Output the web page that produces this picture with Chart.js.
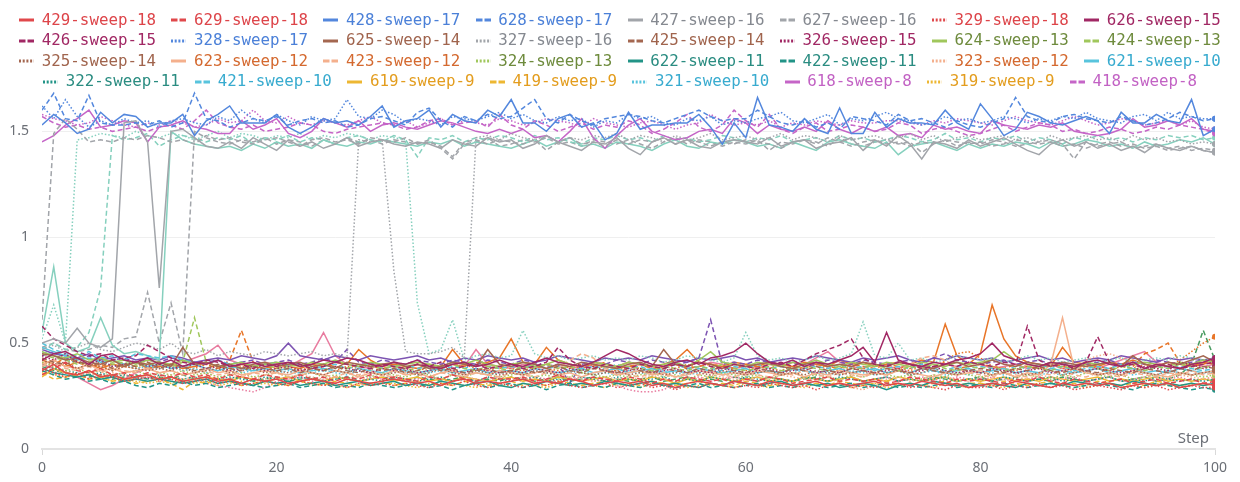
<!DOCTYPE html>
<html>
<head>
<meta charset="utf-8">
<script src="https://cdn.jsdelivr.net/npm/chart.js@4.4.1/dist/chart.umd.min.js"></script>
<style>
  body { margin: 0; background: #fff; }
  #wrap { position: relative; width: 1240px; height: 482px; }
  #lossChart { position: absolute; left: 0; top: 0; }
  #legend {
    position: absolute; left: 0; top: 0; width: 1240px; height: 89px;
    overflow: hidden; box-sizing: border-box; padding-top: 9.7px;
    display: flex; flex-wrap: wrap; justify-content: center; align-content: flex-start;
    column-gap: 15.3px;
    font: 15.8px "DejaVu Sans Mono", monospace; line-height: 20.6px;
  }
  .item { display: flex; align-items: center; height: 20.6px; white-space: nowrap; }
  .item svg { margin-right: 7.7px; }
</style>
</head>
<body>
<div id="wrap">
  <canvas id="lossChart" width="1240" height="482"></canvas>
  <div id="legend"></div>
</div>
<script>
// x categories and tick labels
const steps = Array.from({ length: 101 }, (_, i) => i);
const xTicks = [0, 20, 40, 60, 80, 100];
const yTicks = [0, 0.5, 1, 1.5];

// ---- runs that end near 1.5 ----
const r428 = [1.53,1.58,1.54,1.49,1.51,1.59,1.54,1.58,1.57,1.52, 1.54,1.54,1.58,1.48,1.55,1.58,1.62,1.54,1.54,1.54,
  1.58,1.52,1.49,1.52,1.56,1.54,1.55,1.53,1.57,1.62, 1.52,1.55,1.56,1.60,1.52,1.58,1.55,1.54,1.60,1.57,
  1.65,1.54,1.54,1.50,1.56,1.58,1.52,1.54,1.46,1.49, 1.59,1.51,1.53,1.53,1.54,1.54,1.58,1.52,1.44,1.54,
  1.47,1.66,1.53,1.52,1.50,1.56,1.51,1.49,1.61,1.49, 1.49,1.59,1.52,1.56,1.54,1.54,1.53,1.60,1.54,1.51,
  1.63,1.56,1.48,1.51,1.59,1.57,1.54,1.53,1.55,1.57, 1.55,1.49,1.59,1.54,1.54,1.58,1.55,1.54,1.65,1.48, 1.51];
const r628 = [1.60,1.68,1.56,1.55,1.67,1.54,1.53,1.53,1.54,1.53, 1.55,1.52,1.54,1.68,1.56,1.55,1.52,1.54,1.56,1.55,
  1.57,1.53,1.55,1.56,1.54,1.55,1.52,1.53,1.56,1.57, 1.55,1.53,1.59,1.61,1.55,1.52,1.57,1.55,1.58,1.56,
  1.57,1.61,1.65,1.56,1.54,1.58,1.55,1.53,1.56,1.57, 1.58,1.57,1.55,1.54,1.56,1.58,1.60,1.57,1.55,1.56,
  1.56,1.60,1.57,1.54,1.53,1.55,1.52,1.54,1.51,1.57, 1.56,1.55,1.53,1.58,1.55,1.56,1.54,1.52,1.55,1.53,
  1.52,1.54,1.56,1.66,1.57,1.55,1.54,1.57,1.58,1.56, 1.55,1.54,1.57,1.55,1.53,1.54,1.56,1.59,1.57,1.55, 1.56];
const r328 = [1.62,1.56,1.65,1.57,1.52,1.55,1.53,1.56,1.54,1.55, 1.52,1.55,1.56,1.54,1.53,1.57,1.55,1.60,1.56,1.54,
  1.58,1.55,1.53,1.57,1.55,1.56,1.65,1.57,1.56,1.60, 1.58,1.54,1.56,1.55,1.53,1.57,1.56,1.55,1.57,1.59,
  1.56,1.58,1.55,1.54,1.57,1.55,1.56,1.52,1.55,1.54, 1.58,1.56,1.57,1.54,1.53,1.56,1.55,1.57,1.53,1.55,
  1.54,1.56,1.57,1.59,1.55,1.54,1.56,1.58,1.53,1.56, 1.55,1.57,1.59,1.56,1.55,1.53,1.54,1.57,1.55,1.56,
  1.54,1.55,1.57,1.56,1.54,1.56,1.55,1.57,1.56,1.59, 1.56,1.55,1.54,1.57,1.58,1.55,1.59,1.56,1.57,1.56, 1.56];
const r618 = [1.45,1.48,1.53,1.56,1.60,1.52,1.53,1.55,1.54,1.45, 1.52,1.53,1.55,1.52,1.51,1.49,1.49,1.55,1.51,1.53,
  1.56,1.49,1.47,1.50,1.56,1.54,1.52,1.55,1.50,1.53, 1.54,1.52,1.51,1.53,1.55,1.54,1.52,1.50,1.49,1.51,
  1.49,1.51,1.47,1.48,1.45,1.50,1.56,1.47,1.42,1.48, 1.53,1.56,1.50,1.48,1.46,1.47,1.50,1.51,1.49,1.56,
  1.54,1.49,1.53,1.51,1.50,1.52,1.50,1.55,1.51,1.49, 1.52,1.50,1.52,1.48,1.49,1.47,1.53,1.51,1.52,1.50,
  1.49,1.55,1.53,1.52,1.51,1.53,1.52,1.54,1.50,1.49, 1.48,1.49,1.51,1.56,1.52,1.53,1.55,1.53,1.56,1.51, 1.50];
const r418 = [1.57,1.54,1.52,1.53,1.51,1.52,1.50,1.51,1.52,1.50, 1.52,1.53,1.51,1.55,1.60,1.54,1.52,1.51,1.53,1.50,
  1.51,1.52,1.54,1.53,1.50,1.49,1.51,1.52,1.53,1.54, 1.53,1.51,1.52,1.55,1.56,1.53,1.54,1.55,1.52,1.58,
  1.53,1.51,1.55,1.53,1.50,1.52,1.54,1.51,1.53,1.52, 1.55,1.53,1.49,1.51,1.54,1.58,1.52,1.50,1.53,1.60,
  1.55,1.52,1.58,1.51,1.49,1.52,1.54,1.50,1.51,1.53, 1.52,1.50,1.51,1.54,1.53,1.49,1.51,1.52,1.50,1.48,
  1.49,1.51,1.53,1.50,1.52,1.54,1.53,1.50,1.51,1.49, 1.50,1.52,1.51,1.49,1.50,1.52,1.51,1.53,1.52,1.51, 1.49];
const r318 = [1.58,1.56,1.55,1.53,1.54,1.57,1.55,1.53,1.52,1.54, 1.53,1.55,1.54,1.52,1.53,1.56,1.54,1.55,1.60,1.55,
  1.54,1.57,1.54,1.53,1.55,1.54,1.53,1.55,1.57,1.54, 1.53,1.55,1.52,1.54,1.56,1.53,1.55,1.54,1.53,1.56,
  1.55,1.53,1.54,1.56,1.55,1.54,1.52,1.56,1.54,1.53, 1.52,1.54,1.55,1.53,1.51,1.53,1.54,1.58,1.55,1.53,
  1.54,1.53,1.55,1.52,1.54,1.53,1.55,1.54,1.53,1.55, 1.54,1.54,1.55,1.55,1.54,1.53,1.55,1.54,1.56,1.55,
  1.54,1.53,1.55,1.57,1.55,1.54,1.53,1.55,1.57,1.55, 1.53,1.54,1.56,1.55,1.53,1.54,1.55,1.53,1.55,1.52, 1.51];
const r427 = [0.50,0.52,0.50,0.57,0.50,0.48,0.52,1.54,1.55,1.45, 0.76,1.50,1.51,1.47,1.43,1.42,1.45,1.42,1.47,1.44,
  1.41,1.46,1.43,1.45,1.42,1.44,1.47,1.43,1.45,1.46, 1.44,1.43,1.45,1.44,1.42,1.46,1.44,1.43,1.47,1.45,
  1.46,1.42,1.44,1.48,1.45,1.43,1.41,1.45,1.44,1.47, 1.42,1.39,1.45,1.47,1.44,1.46,1.43,1.42,1.45,1.46,
  1.45,1.44,1.47,1.43,1.45,1.46,1.42,1.44,1.45,1.47, 1.41,1.46,1.43,1.48,1.44,1.37,1.45,1.44,1.42,1.46,
  1.43,1.45,1.47,1.44,1.41,1.39,1.44,1.46,1.43,1.45, 1.42,1.44,1.41,1.43,1.40,1.44,1.42,1.41,1.43,1.41, 1.40];
const r627 = [0.61,1.49,1.56,1.51,1.45,1.46,1.45,1.47,1.46,1.48, 1.47,1.45,1.46,1.44,1.48,1.46,1.47,1.45,1.44,1.46,
  1.47,1.45,1.43,1.46,1.47,1.45,1.46,1.44,1.47,1.46, 1.45,1.47,1.44,1.45,1.43,1.38,1.45,1.46,1.44,1.46,
  1.45,1.44,1.46,1.41,1.45,1.47,1.44,1.45,1.43,1.46, 1.44,1.46,1.45,1.47,1.44,1.46,1.45,1.43,1.45,1.44,
  1.46,1.45,1.44,1.42,1.45,1.46,1.44,1.47,1.45,1.43, 1.45,1.46,1.44,1.45,1.43,1.45,1.44,1.46,1.45,1.44,
  1.45,1.43,1.44,1.46,1.45,1.44,1.45,1.43,1.44,1.42, 1.44,1.45,1.43,1.44,1.42,1.43,1.41,1.42,1.43,1.41, 1.40];
const r527 = [0.48,0.50,0.47,0.46,0.47,0.49,0.48,0.52,0.53,0.74, 0.50,0.69,0.45,1.50,1.47,1.45,1.44,1.46,1.45,1.47,
  1.44,1.46,1.45,1.43,1.46,1.44,1.47,1.45,1.46,1.44, 1.46,1.45,1.44,1.46,1.42,1.37,1.44,1.45,1.47,1.43,
  1.44,1.46,1.45,1.47,1.44,1.45,1.43,1.46,1.45,1.44, 1.46,1.44,1.42,1.45,1.47,1.44,1.46,1.45,1.43,1.45,
  1.44,1.46,1.41,1.45,1.44,1.46,1.45,1.43,1.47,1.44, 1.43,1.45,1.46,1.44,1.45,1.40,1.44,1.46,1.43,1.45,
  1.44,1.46,1.45,1.43,1.44,1.45,1.46,1.44,1.37,1.45, 1.43,1.44,1.45,1.42,1.43,1.44,1.42,1.43,1.41,1.42, 1.41];
const r327 = [0.47,0.49,0.46,0.48,0.50,0.47,0.46,0.48,0.50,0.49, 0.47,0.50,0.46,0.45,0.47,0.44,0.46,0.45,0.44,0.46,
  0.45,0.44,0.45,0.46,0.44,0.45,0.43,1.46,1.45,1.46, 0.84,0.46,0.45,0.45,0.46,0.48,0.43,1.47,1.48,1.46,
  1.49,1.47,1.46,1.48,1.45,1.47,1.46,1.48,1.47,1.49, 1.46,1.48,1.47,1.45,1.48,1.46,1.47,1.49,1.46,1.47,
  1.48,1.46,1.47,1.49,1.46,1.48,1.47,1.45,1.48,1.46, 1.47,1.48,1.46,1.47,1.49,1.46,1.48,1.45,1.47,1.48,
  1.46,1.47,1.48,1.46,1.47,1.45,1.48,1.46,1.47,1.48, 1.46,1.47,1.45,1.48,1.46,1.47,1.45,1.46,1.44,1.45, 1.44];
const r617 = [0.55,0.86,0.50,0.46,0.48,0.62,0.49,0.45,0.46,0.44, 0.42,1.50,1.46,1.44,1.43,1.42,1.43,1.41,1.44,1.42,
  1.45,1.43,1.44,1.42,1.46,1.44,1.43,1.45,1.44,1.46, 1.45,1.44,1.43,1.45,1.44,1.46,1.43,1.45,1.44,1.43,
  1.42,1.44,1.46,1.43,1.45,1.47,1.43,1.44,1.42,1.45, 1.44,1.43,1.41,1.44,1.46,1.43,1.42,1.45,1.44,1.46,
  1.45,1.43,1.44,1.42,1.45,1.43,1.41,1.45,1.46,1.44, 1.43,1.42,1.45,1.39,1.43,1.44,1.45,1.43,1.41,1.44,
  1.42,1.44,1.43,1.45,1.44,1.42,1.45,1.43,1.44,1.46, 1.45,1.43,1.44,1.42,1.45,1.43,1.44,1.46,1.45,1.47, 1.44];
const r417 = [0.47,0.50,0.47,0.48,0.55,0.76,1.48,1.46,1.47,1.49, 1.43,1.46,1.48,1.47,1.45,1.47,1.46,1.48,1.44,1.47,
  1.46,1.48,1.45,1.47,1.46,1.44,1.47,1.48,1.46,1.45, 1.48,1.46,1.38,1.47,1.46,1.48,1.45,1.47,1.46,1.48,
  1.47,1.45,1.48,1.46,1.47,1.45,1.44,1.47,1.46,1.48, 1.46,1.47,1.45,1.48,1.46,1.47,1.45,1.46,1.48,1.47,
  1.45,1.47,1.46,1.48,1.45,1.46,1.47,1.45,1.48,1.46, 1.47,1.45,1.46,1.48,1.47,1.45,1.46,1.49,1.46,1.47,
  1.45,1.47,1.46,1.48,1.45,1.47,1.46,1.44,1.47,1.46, 1.48,1.46,1.47,1.45,1.47,1.46,1.48,1.47,1.48,1.46, 1.47];
const r317 = [0.52,0.68,0.50,1.46,1.47,1.49,1.48,1.47,1.50,1.48, 1.47,1.49,1.48,1.46,1.48,1.50,1.47,1.49,1.48,1.46,
  1.48,1.47,1.49,1.46,1.48,1.47,1.49,1.48,1.46,1.48, 1.47,1.46,0.69,0.45,0.47,0.61,0.42,0.44,0.45,0.43,
  0.44,0.56,0.45,0.43,0.44,0.42,0.43,0.44,0.42,0.43, 0.42,0.44,0.43,0.41,0.42,0.44,0.43,0.42,0.41,0.43,
  0.55,0.44,0.42,0.43,0.41,0.42,0.44,0.42,0.43,0.45, 0.60,0.44,0.43,0.50,0.42,0.43,0.41,0.42,0.44,0.43,
  0.42,0.43,0.41,0.42,0.44,0.42,0.43,0.41,0.42,0.43, 0.41,0.42,0.43,0.41,0.42,0.43,0.42,0.44,0.43,0.42, 0.43];

// ---- runs that stay near 0.35 ----
const r429 = [0.37,0.40,0.36,0.35,0.37,0.34,0.35,0.33,0.34,0.35, 0.33,0.34,0.32,0.33,0.34,0.32,0.33,0.31,0.33,0.32,
  0.33,0.31,0.32,0.33,0.32,0.31,0.33,0.32,0.31,0.32, 0.33,0.32,0.31,0.32,0.30,0.32,0.33,0.31,0.32,0.31,
  0.32,0.33,0.31,0.32,0.31,0.33,0.32,0.30,0.31,0.32, 0.31,0.32,0.30,0.31,0.29,0.31,0.32,0.31,0.30,0.32,
  0.31,0.30,0.32,0.31,0.30,0.31,0.32,0.30,0.31,0.30, 0.31,0.32,0.30,0.31,0.30,0.32,0.31,0.30,0.31,0.29,
  0.30,0.31,0.30,0.32,0.31,0.30,0.29,0.31,0.30,0.31, 0.30,0.31,0.29,0.30,0.31,0.30,0.31,0.29,0.30,0.31, 0.30];
const r629 = [0.35,0.38,0.41,0.37,0.36,0.38,0.35,0.36,0.34,0.36, 0.35,0.34,0.36,0.34,0.35,0.33,0.35,0.34,0.33,0.35,
  0.34,0.33,0.35,0.33,0.34,0.32,0.34,0.33,0.35,0.33, 0.34,0.33,0.32,0.34,0.33,0.35,0.33,0.32,0.34,0.33,
  0.33,0.34,0.32,0.33,0.35,0.33,0.32,0.34,0.33,0.32, 0.34,0.33,0.31,0.33,0.32,0.34,0.33,0.32,0.33,0.31,
  0.33,0.32,0.34,0.33,0.31,0.32,0.33,0.34,0.32,0.33, 0.32,0.33,0.31,0.32,0.34,0.33,0.32,0.31,0.33,0.32,
  0.33,0.32,0.31,0.33,0.32,0.34,0.32,0.31,0.33,0.32, 0.31,0.32,0.33,0.31,0.32,0.33,0.31,0.32,0.33,0.31, 0.32];
const r329 = [0.38,0.36,0.34,0.36,0.33,0.35,0.34,0.32,0.33,0.34, 0.32,0.33,0.31,0.32,0.33,0.31,0.32,0.30,0.31,0.32,
  0.31,0.30,0.32,0.31,0.30,0.31,0.29,0.31,0.30,0.31, 0.30,0.31,0.30,0.29,0.31,0.30,0.32,0.30,0.29,0.31,
  0.30,0.29,0.31,0.30,0.32,0.30,0.29,0.30,0.31,0.29, 0.30,0.31,0.29,0.30,0.28,0.30,0.29,0.31,0.30,0.29,
  0.30,0.29,0.31,0.30,0.29,0.30,0.28,0.30,0.31,0.29, 0.30,0.29,0.30,0.31,0.29,0.30,0.29,0.28,0.30,0.29,
  0.29,0.30,0.28,0.30,0.29,0.31,0.29,0.30,0.28,0.29, 0.30,0.29,0.28,0.30,0.29,0.30,0.28,0.29,0.30,0.29, 0.29];
const r626 = [0.42,0.45,0.46,0.43,0.40,0.44,0.45,0.42,0.41,0.43, 0.40,0.42,0.39,0.41,0.40,0.42,0.39,0.40,0.41,0.39,
  0.40,0.41,0.39,0.40,0.42,0.41,0.43,0.42,0.40,0.39, 0.41,0.40,0.42,0.39,0.38,0.40,0.41,0.39,0.40,0.42,
  0.40,0.39,0.41,0.43,0.41,0.40,0.39,0.41,0.44,0.47, 0.45,0.42,0.40,0.39,0.41,0.42,0.40,0.43,0.44,0.46,
  0.50,0.45,0.41,0.40,0.42,0.39,0.41,0.40,0.42,0.44, 0.48,0.41,0.55,0.42,0.40,0.39,0.41,0.40,0.42,0.43,
  0.45,0.50,0.44,0.42,0.40,0.39,0.41,0.40,0.39,0.41, 0.42,0.40,0.39,0.41,0.38,0.40,0.39,0.38,0.40,0.41, 0.43];
const r426 = [0.58,0.52,0.49,0.46,0.44,0.45,0.42,0.43,0.44,0.49, 0.46,0.43,0.41,0.40,0.42,0.41,0.39,0.40,0.38,0.40,
  0.39,0.41,0.40,0.38,0.39,0.41,0.40,0.39,0.38,0.40, 0.39,0.38,0.40,0.39,0.41,0.38,0.39,0.40,0.38,0.39,
  0.40,0.38,0.39,0.41,0.48,0.42,0.39,0.38,0.40,0.39, 0.38,0.40,0.39,0.38,0.40,0.39,0.41,0.39,0.38,0.40,
  0.39,0.38,0.40,0.41,0.39,0.42,0.45,0.47,0.49,0.52, 0.43,0.40,0.39,0.41,0.40,0.38,0.39,0.40,0.39,0.41,
  0.40,0.39,0.41,0.40,0.58,0.42,0.39,0.40,0.38,0.41, 0.53,0.41,0.39,0.40,0.38,0.39,0.40,0.38,0.39,0.40, 0.41];
const r326 = [0.44,0.42,0.45,0.41,0.40,0.42,0.39,0.40,0.41,0.39, 0.40,0.38,0.39,0.40,0.38,0.39,0.37,0.38,0.39,0.37,
  0.38,0.39,0.37,0.38,0.37,0.39,0.38,0.37,0.36,0.38, 0.37,0.38,0.36,0.37,0.39,0.37,0.36,0.38,0.37,0.36,
  0.37,0.36,0.38,0.37,0.36,0.38,0.37,0.39,0.37,0.36, 0.37,0.38,0.36,0.37,0.38,0.36,0.37,0.36,0.38,0.37,
  0.36,0.37,0.38,0.36,0.37,0.38,0.36,0.37,0.36,0.38, 0.37,0.36,0.37,0.38,0.36,0.37,0.39,0.37,0.36,0.37,
  0.36,0.38,0.37,0.36,0.37,0.38,0.36,0.37,0.38,0.37, 0.38,0.37,0.36,0.37,0.39,0.38,0.37,0.41,0.40,0.38, 0.39];
const r625 = [0.45,0.44,0.42,0.43,0.41,0.40,0.42,0.39,0.41,0.40, 0.41,0.39,0.48,0.40,0.41,0.39,0.40,0.38,0.40,0.41,
  0.39,0.40,0.41,0.39,0.40,0.38,0.41,0.40,0.39,0.40, 0.41,0.39,0.40,0.38,0.39,0.41,0.40,0.39,0.47,0.40,
  0.39,0.41,0.40,0.38,0.40,0.39,0.41,0.40,0.39,0.38, 0.40,0.41,0.39,0.47,0.40,0.39,0.41,0.40,0.38,0.40,
  0.39,0.40,0.41,0.39,0.38,0.40,0.41,0.39,0.40,0.39, 0.41,0.40,0.39,0.41,0.40,0.39,0.38,0.40,0.41,0.39,
  0.40,0.42,0.40,0.39,0.41,0.40,0.39,0.41,0.40,0.39, 0.40,0.41,0.39,0.44,0.40,0.39,0.41,0.40,0.42,0.44, 0.41];
const r425 = [0.43,0.41,0.40,0.42,0.39,0.41,0.38,0.40,0.39,0.41, 0.38,0.40,0.39,0.37,0.38,0.40,0.38,0.37,0.39,0.38,
  0.37,0.38,0.36,0.38,0.37,0.39,0.37,0.36,0.38,0.37, 0.38,0.36,0.37,0.39,0.37,0.38,0.36,0.37,0.38,0.36,
  0.37,0.38,0.36,0.37,0.39,0.37,0.36,0.38,0.37,0.36, 0.38,0.37,0.36,0.38,0.37,0.36,0.38,0.37,0.39,0.37,
  0.36,0.38,0.37,0.36,0.38,0.37,0.39,0.37,0.36,0.38, 0.37,0.36,0.38,0.37,0.36,0.38,0.37,0.36,0.38,0.37,
  0.38,0.37,0.36,0.38,0.37,0.39,0.37,0.36,0.38,0.37, 0.36,0.38,0.37,0.36,0.38,0.37,0.36,0.38,0.37,0.39, 0.38];
const r325 = [0.42,0.40,0.41,0.38,0.40,0.39,0.37,0.39,0.38,0.37, 0.38,0.37,0.39,0.36,0.37,0.38,0.36,0.37,0.38,0.36,
  0.37,0.36,0.38,0.36,0.35,0.37,0.36,0.38,0.36,0.35, 0.36,0.37,0.35,0.36,0.38,0.36,0.35,0.37,0.36,0.35,
  0.36,0.35,0.37,0.36,0.35,0.37,0.36,0.35,0.36,0.37, 0.35,0.36,0.37,0.35,0.36,0.38,0.36,0.35,0.37,0.36,
  0.35,0.36,0.37,0.35,0.36,0.35,0.37,0.36,0.35,0.36, 0.37,0.35,0.36,0.37,0.35,0.36,0.38,0.36,0.35,0.37,
  0.36,0.35,0.37,0.36,0.35,0.36,0.37,0.35,0.36,0.37, 0.35,0.36,0.35,0.37,0.36,0.35,0.37,0.36,0.35,0.36, 0.37];
const r624 = [0.46,0.44,0.43,0.45,0.42,0.43,0.41,0.42,0.40,0.42, 0.41,0.40,0.42,0.40,0.41,0.39,0.40,0.41,0.39,0.40,
  0.41,0.40,0.39,0.41,0.40,0.42,0.40,0.39,0.41,0.40, 0.39,0.40,0.41,0.40,0.39,0.41,0.40,0.42,0.40,0.39,
  0.40,0.41,0.39,0.40,0.42,0.40,0.39,0.41,0.40,0.39, 0.41,0.40,0.39,0.40,0.41,0.39,0.42,0.46,0.41,0.40,
  0.39,0.41,0.40,0.39,0.41,0.40,0.42,0.40,0.39,0.41, 0.40,0.39,0.41,0.40,0.39,0.41,0.40,0.39,0.41,0.40,
  0.41,0.42,0.46,0.42,0.40,0.39,0.41,0.40,0.39,0.41, 0.40,0.41,0.39,0.40,0.41,0.40,0.39,0.41,0.40,0.42, 0.41];
const r424 = [0.45,0.43,0.42,0.40,0.41,0.43,0.40,0.41,0.39,0.40, 0.40,0.39,0.41,0.62,0.41,0.39,0.40,0.38,0.39,0.40,
  0.38,0.39,0.40,0.38,0.37,0.39,0.38,0.40,0.39,0.38, 0.39,0.38,0.37,0.39,0.38,0.40,0.38,0.37,0.39,0.38,
  0.37,0.39,0.38,0.40,0.38,0.39,0.37,0.38,0.39,0.38, 0.39,0.38,0.37,0.39,0.38,0.37,0.39,0.38,0.40,0.38,
  0.37,0.38,0.39,0.37,0.38,0.39,0.38,0.37,0.39,0.38, 0.38,0.40,0.38,0.37,0.39,0.38,0.40,0.38,0.37,0.39,
  0.38,0.39,0.37,0.38,0.39,0.38,0.37,0.39,0.38,0.40, 0.38,0.37,0.39,0.38,0.37,0.39,0.38,0.40,0.39,0.38, 0.40];
const r324 = [0.41,0.39,0.37,0.38,0.36,0.37,0.35,0.36,0.37,0.35, 0.36,0.35,0.37,0.35,0.36,0.34,0.35,0.36,0.34,0.35,
  0.36,0.34,0.35,0.36,0.34,0.35,0.33,0.35,0.34,0.36, 0.35,0.34,0.36,0.35,0.33,0.35,0.34,0.36,0.35,0.34,
  0.35,0.36,0.34,0.35,0.33,0.34,0.36,0.35,0.34,0.35, 0.34,0.35,0.36,0.34,0.35,0.33,0.35,0.34,0.36,0.35,
  0.34,0.35,0.33,0.35,0.36,0.34,0.35,0.34,0.33,0.35, 0.34,0.36,0.35,0.34,0.35,0.33,0.35,0.34,0.36,0.35,
  0.34,0.35,0.36,0.34,0.35,0.34,0.33,0.35,0.34,0.36, 0.35,0.34,0.35,0.33,0.34,0.35,0.34,0.36,0.35,0.34, 0.35];
const r623 = [0.40,0.42,0.39,0.38,0.40,0.37,0.38,0.36,0.37,0.38, 0.36,0.37,0.35,0.36,0.38,0.36,0.37,0.35,0.36,0.37,
  0.36,0.35,0.37,0.36,0.35,0.37,0.36,0.34,0.36,0.35, 0.37,0.35,0.36,0.34,0.36,0.37,0.35,0.36,0.35,0.37,
  0.36,0.35,0.36,0.37,0.35,0.36,0.34,0.36,0.37,0.35, 0.36,0.37,0.35,0.36,0.34,0.35,0.37,0.36,0.35,0.36,
  0.35,0.37,0.36,0.35,0.36,0.34,0.36,0.35,0.37,0.36, 0.35,0.36,0.35,0.37,0.36,0.35,0.34,0.36,0.35,0.36,
  0.37,0.35,0.36,0.34,0.36,0.35,0.40,0.62,0.38,0.36, 0.35,0.36,0.35,0.37,0.36,0.35,0.34,0.36,0.35,0.36, 0.37];
const r423 = [0.39,0.41,0.38,0.37,0.39,0.36,0.38,0.37,0.36,0.38, 0.36,0.37,0.35,0.36,0.37,0.35,0.36,0.34,0.36,0.35,
  0.36,0.34,0.35,0.36,0.35,0.34,0.36,0.35,0.37,0.35, 0.34,0.36,0.35,0.34,0.36,0.35,0.34,0.36,0.35,0.34,
  0.36,0.35,0.34,0.36,0.38,0.42,0.45,0.43,0.38,0.36, 0.35,0.34,0.36,0.35,0.34,0.36,0.35,0.37,0.35,0.34,
  0.36,0.35,0.34,0.36,0.35,0.37,0.35,0.34,0.36,0.35, 0.34,0.36,0.35,0.37,0.40,0.43,0.44,0.42,0.38,0.36,
  0.35,0.34,0.36,0.35,0.34,0.36,0.35,0.37,0.35,0.34, 0.36,0.35,0.34,0.36,0.35,0.34,0.36,0.35,0.37,0.35, 0.36];
const r323 = [0.38,0.36,0.37,0.35,0.36,0.34,0.36,0.35,0.34,0.35, 0.34,0.35,0.33,0.34,0.36,0.34,0.33,0.35,0.34,0.33,
  0.34,0.33,0.35,0.34,0.33,0.34,0.32,0.34,0.33,0.35, 0.34,0.33,0.32,0.34,0.33,0.35,0.34,0.33,0.32,0.34,
  0.33,0.34,0.32,0.33,0.35,0.34,0.33,0.32,0.34,0.33, 0.34,0.33,0.35,0.33,0.32,0.34,0.33,0.35,0.34,0.33,
  0.32,0.34,0.33,0.35,0.34,0.33,0.32,0.34,0.31,0.29, 0.28,0.30,0.33,0.34,0.32,0.33,0.35,0.34,0.33,0.32,
  0.34,0.33,0.32,0.34,0.33,0.35,0.34,0.33,0.36,0.42, 0.44,0.45,0.43,0.40,0.36,0.34,0.33,0.35,0.34,0.33, 0.34];
const r622 = [0.38,0.36,0.35,0.34,0.35,0.33,0.34,0.32,0.33,0.32, 0.33,0.32,0.31,0.32,0.33,0.31,0.32,0.31,0.30,0.32,
  0.31,0.32,0.30,0.31,0.32,0.30,0.31,0.32,0.30,0.31, 0.32,0.30,0.31,0.30,0.32,0.31,0.30,0.31,0.32,0.30,
  0.29,0.31,0.30,0.32,0.31,0.30,0.31,0.30,0.32,0.31, 0.30,0.31,0.32,0.30,0.31,0.30,0.29,0.31,0.30,0.32,
  0.31,0.30,0.31,0.32,0.30,0.31,0.30,0.31,0.29,0.30, 0.31,0.30,0.28,0.30,0.31,0.30,0.32,0.31,0.30,0.31,
  0.30,0.31,0.30,0.29,0.31,0.30,0.31,0.30,0.32,0.31, 0.30,0.31,0.30,0.32,0.31,0.30,0.31,0.30,0.31,0.30, 0.31];
const r422 = [0.37,0.35,0.33,0.34,0.32,0.33,0.31,0.32,0.30,0.29, 0.31,0.30,0.32,0.30,0.31,0.29,0.30,0.31,0.30,0.29,
  0.30,0.31,0.29,0.30,0.31,0.29,0.30,0.29,0.31,0.30, 0.29,0.30,0.31,0.29,0.30,0.28,0.30,0.31,0.29,0.30,
  0.31,0.29,0.30,0.28,0.30,0.31,0.29,0.30,0.29,0.31, 0.30,0.29,0.31,0.30,0.29,0.30,0.31,0.29,0.30,0.29,
  0.30,0.31,0.29,0.30,0.29,0.31,0.30,0.29,0.30,0.31, 0.29,0.30,0.31,0.29,0.30,0.29,0.30,0.31,0.29,0.30,
  0.30,0.29,0.31,0.30,0.29,0.30,0.31,0.30,0.29,0.30, 0.31,0.30,0.29,0.28,0.30,0.31,0.30,0.29,0.28,0.29, 0.28];
const r322 = [0.40,0.38,0.37,0.36,0.35,0.36,0.34,0.35,0.34,0.33, 0.35,0.34,0.33,0.34,0.32,0.33,0.34,0.33,0.32,0.34,
  0.33,0.32,0.34,0.33,0.32,0.33,0.34,0.32,0.33,0.32, 0.34,0.33,0.32,0.33,0.34,0.32,0.33,0.32,0.34,0.33,
  0.32,0.33,0.34,0.32,0.33,0.32,0.34,0.33,0.32,0.34, 0.33,0.32,0.33,0.34,0.32,0.33,0.32,0.34,0.33,0.32,
  0.34,0.33,0.32,0.33,0.32,0.34,0.33,0.32,0.34,0.33, 0.32,0.33,0.34,0.32,0.33,0.32,0.33,0.34,0.32,0.33,
  0.33,0.32,0.34,0.33,0.32,0.33,0.34,0.32,0.33,0.32, 0.33,0.34,0.32,0.33,0.32,0.34,0.33,0.32,0.33,0.32, 0.33];
const r621 = [0.48,0.46,0.44,0.42,0.43,0.41,0.42,0.40,0.41,0.39, 0.40,0.38,0.39,0.40,0.38,0.37,0.39,0.38,0.37,0.38,
  0.37,0.38,0.36,0.37,0.38,0.37,0.36,0.38,0.37,0.36, 0.38,0.37,0.36,0.37,0.38,0.36,0.37,0.38,0.36,0.37,
  0.37,0.36,0.38,0.37,0.36,0.37,0.38,0.36,0.37,0.38, 0.36,0.37,0.38,0.36,0.37,0.36,0.38,0.37,0.36,0.37,
  0.38,0.36,0.37,0.36,0.38,0.37,0.36,0.37,0.38,0.36, 0.37,0.38,0.36,0.37,0.36,0.38,0.37,0.36,0.37,0.38,
  0.36,0.37,0.38,0.36,0.37,0.36,0.38,0.37,0.36,0.37, 0.38,0.36,0.37,0.38,0.36,0.37,0.36,0.38,0.37,0.36, 0.37];
const r421 = [0.50,0.47,0.45,0.44,0.46,0.43,0.44,0.42,0.45,0.44, 0.43,0.44,0.42,0.41,0.40,0.42,0.40,0.41,0.39,0.40,
  0.41,0.39,0.40,0.38,0.39,0.40,0.38,0.39,0.40,0.38, 0.39,0.40,0.38,0.39,0.37,0.39,0.38,0.40,0.39,0.38,
  0.39,0.38,0.40,0.38,0.39,0.37,0.38,0.39,0.38,0.40, 0.38,0.39,0.37,0.38,0.40,0.38,0.39,0.38,0.37,0.39,
  0.38,0.40,0.38,0.39,0.37,0.38,0.39,0.38,0.40,0.38, 0.39,0.37,0.38,0.39,0.38,0.40,0.38,0.37,0.39,0.38,
  0.39,0.38,0.37,0.39,0.38,0.40,0.38,0.39,0.37,0.38, 0.39,0.38,0.40,0.38,0.37,0.39,0.38,0.39,0.38,0.37, 0.38];
const r321 = [0.46,0.44,0.42,0.41,0.40,0.42,0.39,0.40,0.38,0.39, 0.38,0.39,0.37,0.38,0.36,0.37,0.38,0.36,0.37,0.38,
  0.36,0.37,0.35,0.36,0.37,0.36,0.35,0.37,0.36,0.35, 0.37,0.36,0.35,0.36,0.37,0.35,0.36,0.37,0.35,0.36,
  0.36,0.35,0.37,0.36,0.35,0.36,0.37,0.35,0.36,0.35, 0.37,0.36,0.35,0.37,0.36,0.35,0.36,0.37,0.35,0.36,
  0.35,0.36,0.37,0.35,0.36,0.37,0.35,0.36,0.35,0.37, 0.36,0.35,0.36,0.37,0.35,0.36,0.37,0.35,0.36,0.35,
  0.37,0.36,0.35,0.36,0.37,0.35,0.36,0.35,0.37,0.36, 0.35,0.36,0.37,0.35,0.36,0.35,0.37,0.36,0.35,0.36, 0.36];
const r619 = [0.34,0.38,0.36,0.35,0.37,0.34,0.35,0.33,0.34,0.35, 0.33,0.34,0.32,0.33,0.34,0.33,0.32,0.34,0.33,0.32,
  0.33,0.34,0.32,0.33,0.32,0.34,0.33,0.32,0.33,0.34, 0.32,0.33,0.34,0.32,0.33,0.32,0.34,0.33,0.32,0.33,
  0.34,0.32,0.33,0.32,0.34,0.33,0.32,0.33,0.34,0.32, 0.33,0.32,0.34,0.33,0.31,0.33,0.32,0.34,0.33,0.32,
  0.33,0.34,0.32,0.33,0.32,0.34,0.33,0.32,0.33,0.34, 0.32,0.33,0.32,0.34,0.33,0.32,0.33,0.34,0.32,0.33,
  0.32,0.33,0.34,0.32,0.33,0.32,0.34,0.33,0.32,0.33, 0.34,0.32,0.33,0.32,0.33,0.34,0.32,0.33,0.32,0.33, 0.32];
const r419 = [0.36,0.33,0.34,0.35,0.33,0.34,0.32,0.33,0.31,0.32, 0.33,0.31,0.28,0.32,0.31,0.33,0.32,0.30,0.31,0.32,
  0.31,0.30,0.32,0.31,0.30,0.32,0.31,0.30,0.31,0.32, 0.30,0.31,0.32,0.30,0.31,0.30,0.32,0.31,0.30,0.31,
  0.32,0.30,0.31,0.30,0.32,0.31,0.30,0.31,0.32,0.30, 0.31,0.30,0.32,0.31,0.30,0.31,0.32,0.30,0.31,0.30,
  0.32,0.31,0.30,0.31,0.32,0.30,0.31,0.30,0.32,0.31, 0.30,0.31,0.32,0.30,0.31,0.30,0.31,0.32,0.30,0.31,
  0.31,0.30,0.32,0.31,0.30,0.31,0.32,0.30,0.31,0.30, 0.32,0.31,0.30,0.31,0.30,0.32,0.31,0.30,0.31,0.30, 0.31];
const r319 = [0.37,0.35,0.34,0.36,0.33,0.34,0.32,0.33,0.32,0.31, 0.32,0.31,0.33,0.31,0.32,0.30,0.31,0.32,0.30,0.31,
  0.30,0.31,0.32,0.30,0.31,0.30,0.29,0.31,0.30,0.31, 0.31,0.30,0.29,0.31,0.30,0.31,0.30,0.29,0.31,0.30,
  0.30,0.31,0.30,0.29,0.31,0.30,0.31,0.30,0.29,0.31, 0.30,0.29,0.31,0.30,0.31,0.29,0.30,0.31,0.30,0.29,
  0.31,0.30,0.29,0.31,0.30,0.29,0.31,0.30,0.31,0.29, 0.30,0.31,0.29,0.30,0.31,0.30,0.29,0.31,0.30,0.29,
  0.31,0.30,0.29,0.30,0.31,0.30,0.29,0.31,0.30,0.29, 0.30,0.31,0.29,0.30,0.29,0.31,0.30,0.29,0.30,0.31, 0.30];
const r616 = [0.47,0.45,0.44,0.43,0.45,0.42,0.43,0.44,0.42,0.43, 0.42,0.44,0.43,0.41,0.42,0.43,0.42,0.44,0.43,0.42,
  0.44,0.50,0.44,0.43,0.42,0.44,0.43,0.42,0.44,0.43, 0.42,0.43,0.44,0.42,0.43,0.41,0.43,0.42,0.44,0.43,
  0.42,0.43,0.41,0.42,0.44,0.43,0.42,0.41,0.43,0.42, 0.43,0.42,0.44,0.43,0.42,0.41,0.43,0.42,0.43,0.44,
  0.42,0.43,0.41,0.42,0.43,0.42,0.44,0.43,0.42,0.41, 0.43,0.42,0.43,0.44,0.42,0.41,0.43,0.42,0.44,0.43,
  0.42,0.43,0.41,0.42,0.43,0.44,0.42,0.43,0.41,0.42, 0.43,0.42,0.44,0.43,0.42,0.41,0.43,0.42,0.43,0.42, 0.43];
const r416 = [0.44,0.46,0.43,0.42,0.44,0.41,0.42,0.43,0.41,0.42, 0.41,0.43,0.42,0.40,0.41,0.42,0.40,0.41,0.42,0.40,
  0.41,0.42,0.40,0.41,0.43,0.41,0.47,0.41,0.40,0.42, 0.41,0.40,0.42,0.41,0.40,0.42,0.41,0.40,0.42,0.41,
  0.40,0.42,0.41,0.39,0.40,0.31,0.40,0.41,0.40,0.42, 0.41,0.40,0.42,0.41,0.40,0.41,0.43,0.61,0.40,0.41,
  0.40,0.42,0.41,0.40,0.41,0.39,0.40,0.42,0.41,0.40, 0.42,0.41,0.40,0.41,0.42,0.40,0.43,0.45,0.42,0.41,
  0.40,0.41,0.42,0.40,0.41,0.42,0.40,0.41,0.39,0.40, 0.41,0.42,0.40,0.41,0.40,0.42,0.41,0.40,0.41,0.42, 0.41];
const r615 = [0.40,0.42,0.39,0.41,0.40,0.38,0.40,0.39,0.41,0.38, 0.39,0.40,0.38,0.39,0.41,0.39,0.38,0.40,0.39,0.38,
  0.40,0.39,0.38,0.40,0.39,0.41,0.40,0.47,0.42,0.39, 0.40,0.39,0.38,0.40,0.39,0.47,0.40,0.39,0.41,0.43,
  0.52,0.41,0.40,0.48,0.42,0.40,0.39,0.41,0.40,0.39, 0.41,0.40,0.39,0.40,0.42,0.47,0.41,0.40,0.39,0.41,
  0.40,0.39,0.41,0.40,0.39,0.41,0.40,0.39,0.42,0.40, 0.41,0.39,0.40,0.41,0.40,0.42,0.41,0.59,0.44,0.40,
  0.45,0.68,0.52,0.44,0.41,0.40,0.39,0.48,0.41,0.40, 0.39,0.41,0.40,0.42,0.40,0.39,0.41,0.40,0.39,0.41, 0.40];
const r415 = [0.42,0.40,0.43,0.41,0.39,0.40,0.38,0.40,0.39,0.41, 0.39,0.40,0.38,0.39,0.40,0.38,0.42,0.56,0.41,0.39,
  0.38,0.40,0.39,0.38,0.40,0.39,0.38,0.40,0.39,0.38, 0.39,0.38,0.40,0.39,0.38,0.40,0.39,0.41,0.39,0.38,
  0.40,0.39,0.38,0.40,0.39,0.38,0.40,0.39,0.41,0.38, 0.39,0.40,0.38,0.39,0.40,0.38,0.39,0.40,0.39,0.38,
  0.40,0.39,0.38,0.40,0.39,0.38,0.40,0.39,0.38,0.40, 0.39,0.38,0.40,0.39,0.38,0.40,0.39,0.41,0.38,0.39,
  0.40,0.39,0.38,0.40,0.39,0.38,0.40,0.39,0.38,0.40, 0.39,0.38,0.40,0.39,0.45,0.47,0.50,0.41,0.39,0.40, 0.42];
const r315 = [0.41,0.39,0.40,0.38,0.40,0.39,0.37,0.39,0.38,0.40, 0.38,0.39,0.37,0.38,0.40,0.38,0.37,0.39,0.38,0.37,
  0.39,0.38,0.37,0.39,0.38,0.37,0.39,0.38,0.40,0.38, 0.37,0.39,0.38,0.37,0.39,0.38,0.40,0.38,0.37,0.39,
  0.38,0.37,0.39,0.38,0.37,0.39,0.38,0.40,0.38,0.37, 0.39,0.38,0.37,0.39,0.38,0.40,0.38,0.37,0.39,0.38,
  0.37,0.39,0.38,0.37,0.39,0.38,0.40,0.38,0.37,0.39, 0.38,0.37,0.39,0.38,0.37,0.39,0.38,0.42,0.45,0.46,
  0.43,0.39,0.38,0.37,0.39,0.38,0.40,0.38,0.37,0.39, 0.38,0.37,0.39,0.38,0.40,0.38,0.39,0.42,0.46,0.50, 0.53];
const r614 = [0.40,0.38,0.36,0.34,0.31,0.28,0.30,0.33,0.36,0.38, 0.39,0.40,0.41,0.43,0.45,0.49,0.42,0.40,0.39,0.41,
  0.40,0.39,0.42,0.45,0.55,0.44,0.40,0.39,0.38,0.40, 0.39,0.38,0.40,0.39,0.38,0.40,0.39,0.47,0.40,0.39,
  0.38,0.40,0.39,0.38,0.40,0.39,0.38,0.40,0.39,0.38, 0.39,0.40,0.38,0.39,0.40,0.38,0.39,0.41,0.40,0.38,
  0.39,0.38,0.40,0.39,0.41,0.40,0.43,0.46,0.41,0.39, 0.38,0.40,0.39,0.38,0.40,0.39,0.38,0.40,0.39,0.41,
  0.40,0.38,0.39,0.40,0.38,0.39,0.40,0.38,0.39,0.40, 0.38,0.40,0.42,0.44,0.46,0.41,0.39,0.38,0.40,0.39, 0.40];
const r314 = [0.37,0.35,0.36,0.34,0.35,0.33,0.34,0.35,0.33,0.34, 0.33,0.34,0.32,0.33,0.31,0.30,0.29,0.28,0.27,0.29,
  0.32,0.33,0.34,0.32,0.33,0.34,0.33,0.32,0.34,0.33, 0.34,0.32,0.33,0.34,0.33,0.32,0.34,0.33,0.32,0.34,
  0.33,0.32,0.34,0.33,0.32,0.33,0.34,0.32,0.33,0.30, 0.28,0.27,0.27,0.28,0.31,0.33,0.34,0.32,0.33,0.34,
  0.33,0.32,0.34,0.33,0.32,0.34,0.33,0.32,0.33,0.34, 0.32,0.33,0.34,0.32,0.33,0.34,0.33,0.32,0.34,0.33,
  0.32,0.34,0.33,0.32,0.33,0.34,0.32,0.33,0.34,0.32, 0.33,0.34,0.32,0.33,0.34,0.32,0.33,0.34,0.32,0.33, 0.34];
const r613 = [0.39,0.37,0.36,0.35,0.34,0.35,0.33,0.34,0.35,0.33, 0.34,0.33,0.35,0.33,0.34,0.32,0.33,0.34,0.32,0.33,
  0.34,0.32,0.33,0.34,0.32,0.33,0.34,0.32,0.33,0.34, 0.33,0.32,0.34,0.33,0.32,0.33,0.34,0.32,0.33,0.32,
  0.34,0.33,0.32,0.33,0.34,0.32,0.33,0.34,0.32,0.33, 0.32,0.33,0.34,0.32,0.33,0.34,0.32,0.33,0.32,0.34,
  0.33,0.32,0.34,0.33,0.32,0.33,0.34,0.32,0.33,0.34, 0.32,0.33,0.34,0.32,0.33,0.32,0.34,0.33,0.32,0.33,
  0.34,0.32,0.33,0.34,0.32,0.33,0.32,0.34,0.33,0.32, 0.33,0.34,0.32,0.33,0.34,0.32,0.33,0.35,0.40,0.56, 0.42];

// colour per sweep: line colour, legend text colour
const sweepColors = {
  18: ["#E0484B", "#DD4449"], 17: ["#5387DD", "#4B80D8"], 16: ["#A2A5AA", "#858990"],
  15: ["#A12864", "#A12864"], 14: ["#A46750", "#A0644D"], 13: ["#A0C75C", "#6E8B3D"],
  12: ["#F4B08D", "#D4692F"], 11: ["#229487", "#2A8C81"], 10: ["#58C4DD", "#38ABCF"],
  9: ["#EDB732", "#E39D1E"], 8: ["#C565C7", "#C262C4"], 7: ["#86D0BE", "#5BB59F"],
  6: ["#7D54B2", "#7D54B2"], 5: ["#E87528", "#E06F22"], 4: ["#E87B9F", "#E0708F"], 3: ["#479A5F", "#479A5F"]
};
const dashes = { solid: [], dashed: [5, 3], dotted: [1.5, 2] };
const legendDash = { solid: "", dashed: "6.5 2", dotted: "2 1.7" };

// [name, data, sweep, style, shown in legend]
const runs = [
  ["429-sweep-18", r429, 18, "solid", true], ["629-sweep-18", r629, 18, "dashed", true],
  ["428-sweep-17", r428, 17, "solid", true], ["628-sweep-17", r628, 17, "dashed", true],
  ["427-sweep-16", r427, 16, "solid", true], ["627-sweep-16", r627, 16, "dashed", true],
  ["329-sweep-18", r329, 18, "dotted", true], ["626-sweep-15", r626, 15, "solid", true],
  ["426-sweep-15", r426, 15, "dashed", true], ["328-sweep-17", r328, 17, "dotted", true],
  ["625-sweep-14", r625, 14, "solid", true], ["327-sweep-16", r327, 16, "dotted", true],
  ["425-sweep-14", r425, 14, "dashed", true], ["326-sweep-15", r326, 15, "dotted", true],
  ["624-sweep-13", r624, 13, "solid", true], ["424-sweep-13", r424, 13, "dashed", true],
  ["325-sweep-14", r325, 14, "dotted", true], ["623-sweep-12", r623, 12, "solid", true],
  ["423-sweep-12", r423, 12, "dashed", true], ["324-sweep-13", r324, 13, "dotted", true],
  ["622-sweep-11", r622, 11, "solid", true], ["422-sweep-11", r422, 11, "dashed", true],
  ["323-sweep-12", r323, 12, "dotted", true], ["621-sweep-10", r621, 10, "solid", true],
  ["322-sweep-11", r322, 11, "dotted", true], ["421-sweep-10", r421, 10, "dashed", true],
  ["619-sweep-9", r619, 9, "solid", true], ["419-sweep-9", r419, 9, "dashed", true],
  ["321-sweep-10", r321, 10, "dotted", true], ["618-sweep-8", r618, 8, "solid", true],
  ["319-sweep-9", r319, 9, "dotted", true], ["418-sweep-8", r418, 8, "dashed", true],
  ["318-sweep-8", r318, 8, "dotted", false], ["617-sweep-7", r617, 7, "solid", false],
  ["417-sweep-7", r417, 7, "dashed", false], ["317-sweep-7", r317, 7, "dotted", false],
  ["527-sweep-16", r527, 16, "dashed", false], ["616-sweep-6", r616, 6, "solid", false],
  ["416-sweep-6", r416, 6, "dashed", false], ["615-sweep-5", r615, 5, "solid", false],
  ["415-sweep-5", r415, 5, "dashed", false], ["315-sweep-5", r315, 5, "dotted", false],
  ["614-sweep-4", r614, 4, "solid", false], ["314-sweep-4", r314, 4, "dotted", false],
  ["613-sweep-3", r613, 3, "dashed", false]
];

const lastIdx = steps.length - 1;
const datasets = runs.map(([name, data, sweep, style]) => ({
  label: name,
  data: data,
  borderColor: sweepColors[sweep][0],
  backgroundColor: sweepColors[sweep][0],
  borderWidth: 1.5,
  borderDash: dashes[style],
  tension: 0,
  pointRadius: c => (c.dataIndex === lastIdx ? 3 : 0),
  pointBorderWidth: 0,
  pointBackgroundColor: sweepColors[sweep][0],
  fill: false
}));

// legend (html, like the original)
const legendEl = document.getElementById("legend");
runs.filter(r => r[4]).forEach(([name, , sweep, style]) => {
  const [line, text] = sweepColors[sweep];
  const item = document.createElement("div");
  item.className = "item";
  item.innerHTML =
    `<svg width="15" height="4"><line x1="0" y1="2" x2="15" y2="2" stroke="${line}" stroke-width="3"` +
    (legendDash[style] ? ` stroke-dasharray="${legendDash[style]}"` : "") + `/></svg>` +
    `<span style="color:${text}">${name}</span>`;
  legendEl.appendChild(item);
});

const stepTitle = {
  id: "stepTitle",
  afterDraw(chart) {
    const { ctx, chartArea } = chart;
    ctx.save();
    ctx.font = "15px 'Noto Sans'";
    ctx.fillStyle = "#6b6f76";
    ctx.textAlign = "right";
    ctx.textBaseline = "middle";
    ctx.fillText("Step", chartArea.right - 6, chartArea.bottom - 10);
    ctx.restore();
  }
};

new Chart(document.getElementById("lossChart"), {
  type: "line",
  data: { labels: steps, datasets: datasets },
  options: {
    responsive: false,
    animation: false,
    devicePixelRatio: 1,
    layout: { padding: { top: 89, right: 25, left: 0, bottom: 0 } },
    plugins: { legend: { display: false }, tooltip: { enabled: false } },
    scales: {
      x: {
        type: "linear",
        min: 0,
        max: 100,
        afterBuildTicks: s => { s.ticks = xTicks.map(v => ({ value: v })); },
        afterFit: s => { s.height = 33; },
        ticks: { color: "#6b6f76", font: { family: "Noto Sans", size: 14 }, padding: 5, maxRotation: 0 },
        grid: {
          drawOnChartArea: false,
          tickLength: 6,
          color: c => (c.tick && (c.tick.value === 0 || c.tick.value === 100) ? "#d9d9d9" : "rgba(0,0,0,0)")
        },
        border: { display: true, color: "#e3e3e3", width: 2 }
      },
      y: {
        min: 0,
        max: 1.7,
        afterBuildTicks: s => { s.ticks = yTicks.map(v => ({ value: v })); },
        afterFit: s => { s.width = 42; },
        ticks: { color: "#6b6f76", font: { family: "Noto Sans", size: 14 }, padding: 13, callback: v => String(v) },
        grid: { color: "#efefef", lineWidth: 1, drawTicks: false },
        border: { display: false }
      }
    }
  },
  plugins: [stepTitle]
});
</script>
</body>
</html>
